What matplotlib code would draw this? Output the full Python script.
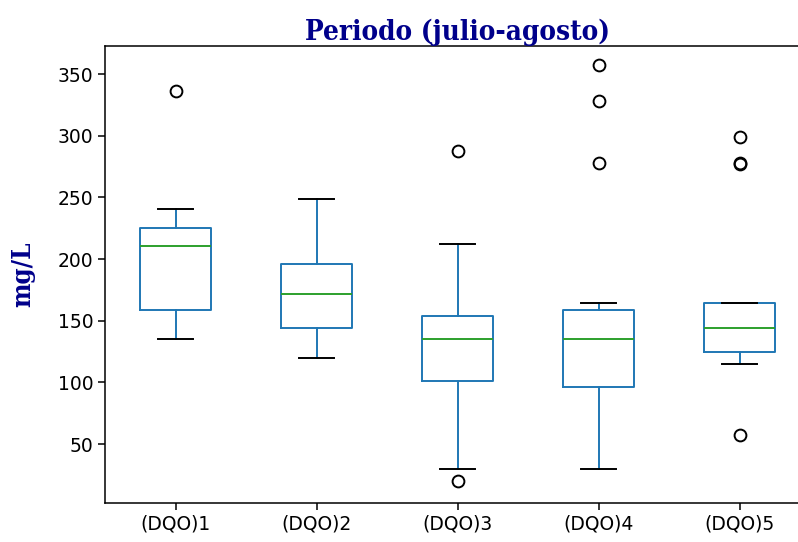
import matplotlib
matplotlib.use("Agg")
import matplotlib.pyplot as plt

# Resumen de cajas por punto de muestreo (DQO, mg/L)
labels = ["(DQO)1", "(DQO)2", "(DQO)3", "(DQO)4", "(DQO)5"]
whislo = [135, 120, 30, 30, 115]
q1 = [159, 144, 101, 96, 125]
med = [211, 172, 135, 135, 144]
q3 = [225, 196, 154, 159, 164]
whishi = [241, 249, 212, 164, 164]
fliers = [[336], [], [288, 20], [357, 328, 278], [299, 278, 277, 57]]

stats = []
for i in range(len(labels)):
    stats.append({"label": labels[i], "whislo": whislo[i], "q1": q1[i], "med": med[i],
                  "q3": q3[i], "whishi": whishi[i], "fliers": fliers[i]})

fig = plt.figure(figsize=(7.98, 5.42), dpi=100)
ax = fig.add_axes([105 / 798, 39 / 542, 705 / 798, 457 / 542])

lw = 1.4
ax.bxp(stats,
       boxprops=dict(color="C0", linewidth=lw),
       whiskerprops=dict(color="C0", linewidth=lw),
       medianprops=dict(color="C2", linewidth=lw),
       capprops=dict(color="k", linewidth=lw),
       flierprops=dict(marker="o", markerfacecolor="none", markeredgecolor="k",
                       markersize=8.5, markeredgewidth=1.4))

ax.set_xlim(0.5, 5.5)
ax.set_ylim(2.2, 372.8)
ax.set_yticks([50, 100, 150, 200, 250, 300, 350])
ax.tick_params(labelsize=13.5, length=4.8, width=1.1)
for s in ax.spines.values():
    s.set_linewidth(1.1)

ax.set_title("Periodo (julio-agosto)", family="DejaVu Serif", fontstretch="condensed",
             fontweight="bold", color="darkblue", fontsize=20, pad=3)
ax.set_ylabel("mg/L", family="DejaVu Serif", fontstretch="condensed",
              fontweight="bold", color="darkblue", fontsize=18.5, labelpad=16)

fig.savefig("out.png", dpi=100)
